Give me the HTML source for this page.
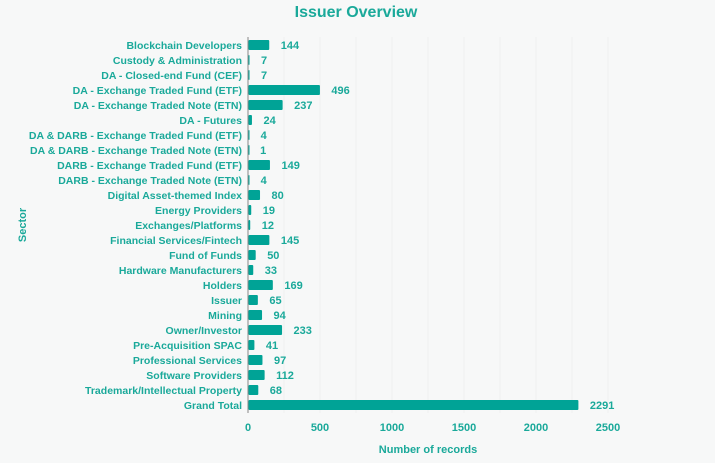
<!DOCTYPE html>
<html><head><meta charset="utf-8"><style>
body{margin:0;background:#f7f8f8;}
svg{display:block;font-family:"Liberation Sans",sans-serif;font-weight:bold;}
</style></head><body>
<svg width="715" height="463" viewBox="0 0 715 463">
<rect width="715" height="463" fill="#f7f8f8"/>
<text x="356" y="17" text-anchor="middle" font-size="16" fill="#1aa99a">Issuer Overview</text>
<g id="grid" stroke="#eff1f1" stroke-width="1"></g>
<line x1="248" y1="37" x2="248" y2="413" stroke="#888" stroke-width="1"/>
<g id="bars"></g>
<g font-size="11" fill="#1aa99a" text-anchor="middle">
<text x="248" y="431">0</text><text x="320" y="431">500</text><text x="392" y="431">1000</text><text x="464" y="431">1500</text><text x="536" y="431">2000</text><text x="608" y="431">2500</text>
<text x="428" y="453">Number of records</text>
</g>
<text transform="translate(26,225) rotate(-90)" text-anchor="middle" font-size="11" fill="#1aa99a">Sector</text>
<script>
var d=[["Blockchain Developers",144],["Custody & Administration",7],["DA - Closed-end Fund (CEF)",7],["DA - Exchange Traded Fund (ETF)",496],["DA - Exchange Traded Note (ETN)",237],["DA - Futures",24],["DA & DARB - Exchange Traded Fund (ETF)",4],["DA & DARB - Exchange Traded Note (ETN)",1],["DARB - Exchange Traded Fund (ETF)",149],["DARB - Exchange Traded Note (ETN)",4],["Digital Asset-themed Index",80],["Energy Providers",19],["Exchanges/Platforms",12],["Financial Services/Fintech",145],["Fund of Funds",50],["Hardware Manufacturers",33],["Holders",169],["Issuer",65],["Mining",94],["Owner/Investor",233],["Pre-Acquisition SPAC",41],["Professional Services",97],["Software Providers",112],["Trademark/Intellectual Property",68],["Grand Total",2291]];
var ns="http://www.w3.org/2000/svg",g=document.getElementById("bars"),gr=document.getElementById("grid");
for(var i=1;i<=10;i++){var l=document.createElementNS(ns,"line");var x=248+i*36;l.setAttribute("x1",x);l.setAttribute("x2",x);l.setAttribute("y1",37);l.setAttribute("y2",413);gr.appendChild(l);}
d.forEach(function(r,i){var y=45+i*15,w=r[1]*0.144;
var b=document.createElementNS(ns,"rect");b.setAttribute("x",248.5);b.setAttribute("y",y-5);b.setAttribute("width",Math.max(w,1));b.setAttribute("height",10);b.setAttribute("fill","#00a396");b.setAttribute("rx",1);g.appendChild(b);
var t=document.createElementNS(ns,"text");t.setAttribute("x",242);t.setAttribute("y",y+4);t.setAttribute("text-anchor","end");t.setAttribute("font-size","10.5");t.setAttribute("fill","#1aa99a");t.textContent=r[0];g.appendChild(t);
var v=document.createElementNS(ns,"text");v.setAttribute("x",248+w+12);v.setAttribute("y",y+4);v.setAttribute("font-size","11");v.setAttribute("fill","#1aa99a");v.textContent=r[1];g.appendChild(v);});
</script>
</svg>
</body></html>
